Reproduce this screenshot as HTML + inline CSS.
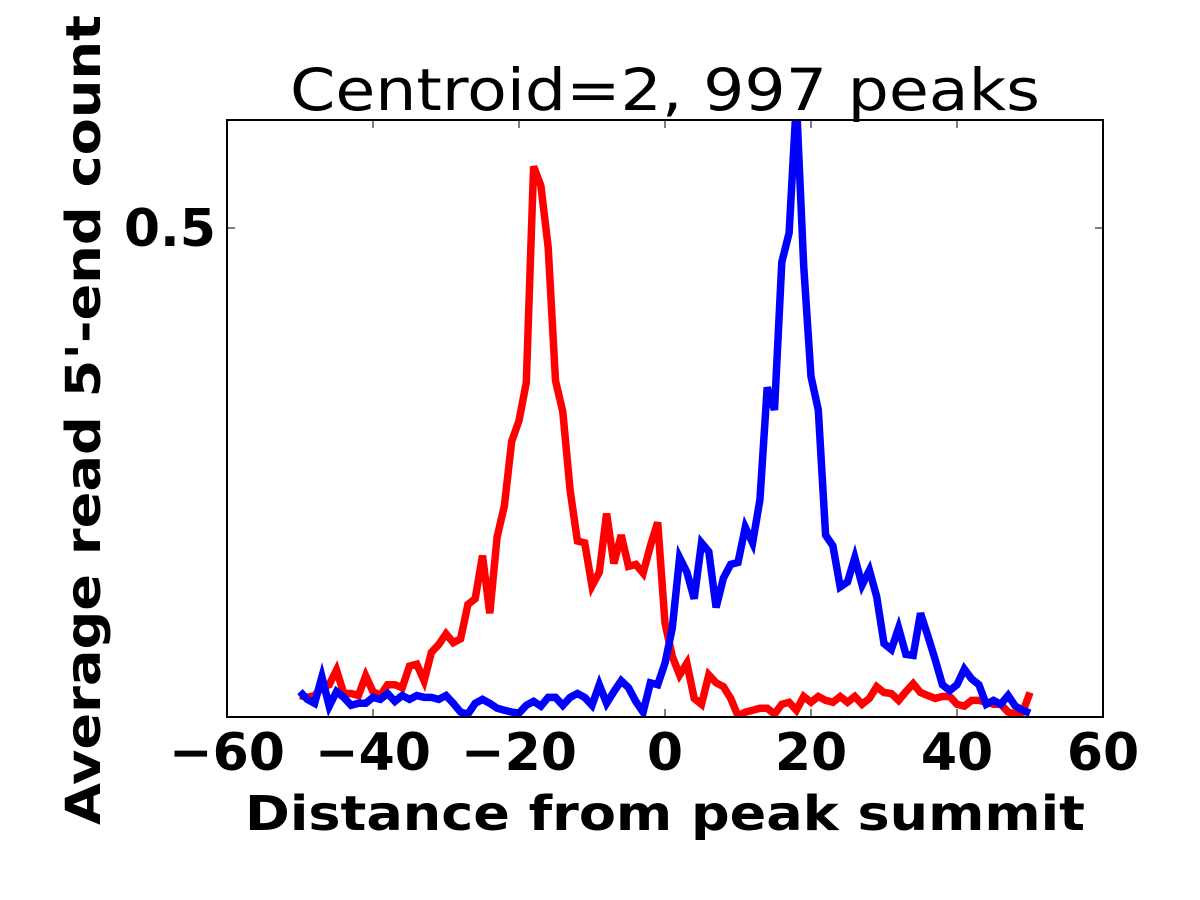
<!DOCTYPE html>
<html><head><meta charset="utf-8"><style>
html,body{margin:0;padding:0;background:#fff;}
svg{display:block;font-family:"DejaVu Sans","Liberation Sans",sans-serif;}
</style></head><body>
<svg id="chart" width="1200" height="900" viewBox="0 0 1200 900">
<rect x="0" y="0" width="1200" height="900" fill="#fff"/>
<text x="665" y="110" font-size="58" text-anchor="middle" textLength="750" lengthAdjust="spacingAndGlyphs">Centroid=2, 997 peaks</text>
<defs><clipPath id="plotclip"><rect x="227" y="120" width="876" height="597"/></clipPath></defs>
<g id="series" clip-path="url(#plotclip)"></g>
<g id="axes"></g>
<text x="665" y="830" font-size="48" font-weight="bold" text-anchor="middle" textLength="840" lengthAdjust="spacingAndGlyphs">Distance from peak summit</text>
<text transform="translate(100,420) rotate(-90)" font-size="48" font-weight="bold" text-anchor="middle" textLength="810" lengthAdjust="spacingAndGlyphs">Average read 5'-end count</text>
</svg>
<script>
const positions = [];
for (let i = -50; i <= 50; i++) positions.push(i);
const redValues = [0.022,0.020,0.022,0.030,0.033,0.048,0.024,0.024,0.022,0.042,0.026,0.022,0.033,0.033,0.030,0.052,0.054,0.037,0.066,0.074,0.085,0.076,0.080,0.115,0.121,0.165,0.106,0.184,0.216,0.282,0.303,0.342,0.563,0.543,0.480,0.344,0.312,0.232,0.180,0.178,0.134,0.148,0.208,0.157,0.186,0.154,0.156,0.147,0.175,0.199,0.096,0.062,0.043,0.055,0.019,0.013,0.043,0.035,0.031,0.019,0.001,0.005,0.007,0.009,0.009,0.003,0.013,0.015,0.007,0.021,0.015,0.021,0.017,0.015,0.021,0.015,0.021,0.013,0.019,0.031,0.025,0.024,0.017,0.026,0.034,0.025,0.022,0.019,0.021,0.021,0.013,0.011,0.017,0.017,0.015,0.013,0.013,0.005,0.003,0.005,0.025];
const blueValues = [0.026,0.018,0.014,0.041,0.011,0.026,0.020,0.012,0.014,0.014,0.020,0.018,0.024,0.016,0.022,0.018,0.022,0.020,0.020,0.018,0.022,0.014,0.005,0.003,0.014,0.018,0.014,0.009,0.007,0.005,0.004,0.012,0.016,0.011,0.020,0.020,0.012,0.020,0.024,0.020,0.012,0.033,0.014,0.026,0.037,0.030,0.016,0.005,0.035,0.033,0.055,0.091,0.163,0.148,0.121,0.178,0.169,0.112,0.142,0.156,0.158,0.194,0.178,0.222,0.337,0.314,0.465,0.495,0.630,0.461,0.348,0.314,0.186,0.175,0.133,0.138,0.163,0.135,0.150,0.123,0.075,0.069,0.091,0.064,0.063,0.106,0.083,0.059,0.033,0.027,0.033,0.049,0.039,0.033,0.013,0.017,0.013,0.022,0.011,0.007,0.004];
const xTicks = [-60,-40,-20,0,20,40,60];
const xTickLabels = ["\u221260","\u221240","\u221220","0","20","40","60"];
const yTicks = [0.5];
const yTickLabels = ["0.5"];

const X0 = 227, X1 = 1103, Y0 = 717, Y1 = 120;
const xMin = -60, xMax = 60, yMin = 0, yMax = 0.6104;
function sx(v){ return X0 + (v - xMin) / (xMax - xMin) * (X1 - X0); }
function sy(v){ return Y0 - (v - yMin) / (yMax - yMin) * (Y0 - Y1); }
const NS = "http://www.w3.org/2000/svg";
const series = document.getElementById('series');
const axes = document.getElementById('axes');

function drawLine(vals, color, name){
  const pts = vals.map((v,i)=>sx(positions[i]).toFixed(1)+','+sy(v).toFixed(1)).join(' ');
  const pl = document.createElementNS(NS,'polyline');
  pl.setAttribute('points', pts);
  pl.setAttribute('fill','none');
  pl.setAttribute('stroke',color);
  pl.setAttribute('stroke-width','7.5');
  pl.setAttribute('stroke-linejoin','miter');
  pl.setAttribute('stroke-miterlimit','4');
  
  
  series.appendChild(pl);
}
drawLine(redValues, '#ff0000', 'red-series-line');
drawLine(blueValues, '#0000ff', 'blue-series-line');

const frame = document.createElementNS(NS,'rect');
frame.setAttribute('x', X0); frame.setAttribute('y', Y1);
frame.setAttribute('width', X1-X0); frame.setAttribute('height', Y0-Y1);
frame.setAttribute('fill','none'); frame.setAttribute('stroke','#000'); frame.setAttribute('stroke-width','2');


axes.appendChild(frame);

function tick(x1,y1,x2,y2,name){
  const l = document.createElementNS(NS,'line');
  l.setAttribute('x1',x1); l.setAttribute('y1',y1); l.setAttribute('x2',x2); l.setAttribute('y2',y2);
  l.setAttribute('stroke','#000'); l.setAttribute('stroke-width','1');
  
  
  axes.appendChild(l);
}
xTicks.forEach((t,i)=>{
  const x = sx(t);
  tick(x,Y0,x,Y0-8,'x-tick');
  tick(x,Y1,x,Y1+8,'x-tick-top');
  const tx = document.createElementNS(NS,'text');
  tx.setAttribute('x', x); tx.setAttribute('y', 770);
  tx.setAttribute('font-size','52'); tx.setAttribute('font-weight','bold');
  tx.setAttribute('text-anchor','middle');
  tx.textContent = xTickLabels[i];
  
  
  axes.appendChild(tx);
});
yTicks.forEach((t,i)=>{
  const y = sy(t);
  tick(X0,y,X0+8,y,'y-tick');
  tick(X1,y,X1-8,y,'y-tick-right');
  const tx = document.createElementNS(NS,'text');
  tx.setAttribute('x', 216); tx.setAttribute('y', y+18);
  tx.setAttribute('font-size','52'); tx.setAttribute('font-weight','bold');
  tx.setAttribute('text-anchor','end');
  tx.textContent = yTickLabels[i];
  
  
  axes.appendChild(tx);
});
</script>
</body></html>
